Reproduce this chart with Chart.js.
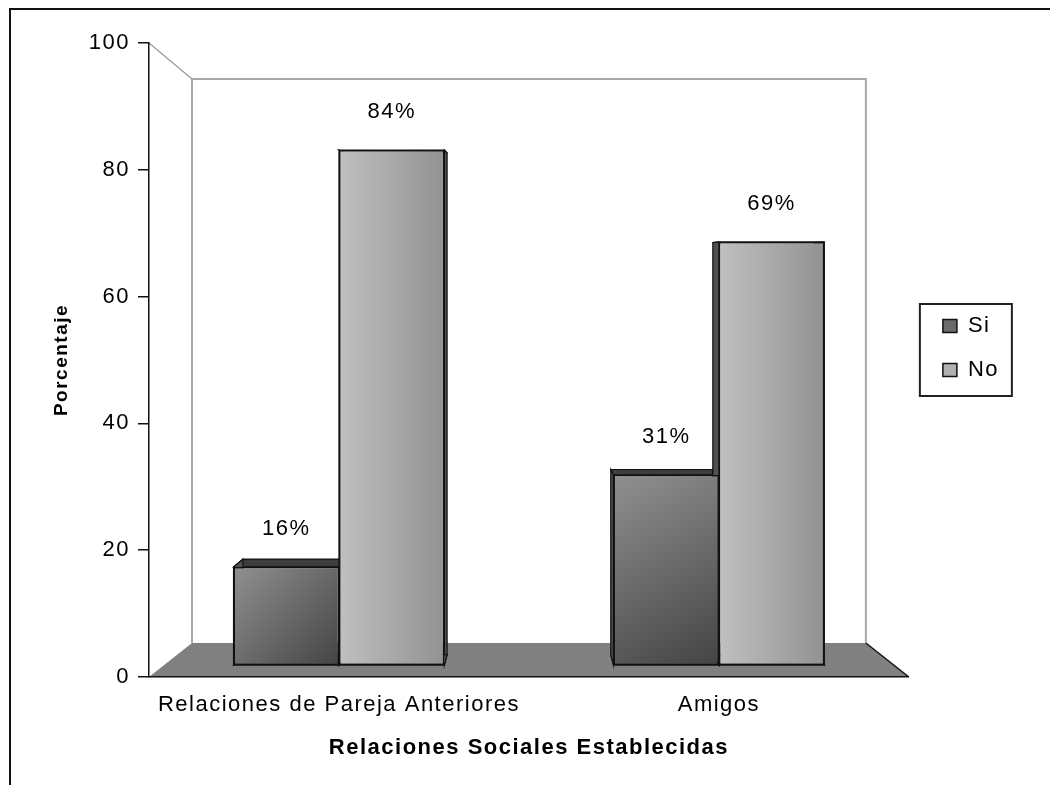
<!DOCTYPE html>
<html>
<head>
<meta charset="utf-8">
<script src="https://cdn.jsdelivr.net/npm/chart.js@4.4.1/dist/chart.umd.min.js"></script>
<style>
  html, body { margin: 0; padding: 0; background: #ffffff; }
  #wrap { width: 1050px; height: 785px; position: relative; }
  canvas { display: block; }
</style>
</head>
<body>
<div id="wrap"><canvas id="chart" width="1050" height="785"></canvas></div>
<script>
// ---- data ----
const categories = ['Relaciones de Pareja Anteriores', 'Amigos'];
const seriesNames = ['Si', 'No'];
const siValues = [16, 31];
const noValues = [84, 69];
const yTickValues = [0, 20, 40, 60, 80, 100];
const yAxisTitle = 'Porcentaje';
const xAxisTitle = 'Relaciones Sociales Establecidas';

// ---- style constants ----
const FONT = "'Liberation Sans', Arial, sans-serif";
const LETTER_SPACING = '1.5px';
const DEPTH_X = 43, DEPTH_Y = 34, WALL_DROP = 36;   // 3D wall/floor depth
const KX = 0.032, KY = 0.026, VP_VALUE = 65;         // bar extrusion perspective

Chart.defaults.font.family = FONT;
Chart.defaults.color = '#000';

const spacingPlugin = {
  id: 'spacing',
  beforeUpdate(chart) { chart.ctx.letterSpacing = LETTER_SPACING; },
  beforeDraw(chart) { chart.ctx.letterSpacing = LETTER_SPACING; }
};

const scenePlugin = {
  id: 'scene',
  beforeDraw(chart) {
    const { ctx, chartArea: ca, scales } = chart;
    const y = scales.y;
    const L = ca.left, R = ca.right;
    const y0 = y.getPixelForValue(0), y100 = y.getPixelForValue(100);
    const floorBack = y0 - DEPTH_Y, wallTop = y100 + WALL_DROP;
    const bL = L + DEPTH_X, bR = R - DEPTH_X;
    ctx.save();
    ctx.fillStyle = '#ffffff';
    ctx.fillRect(0, 0, chart.width, chart.height);
    // floor
    ctx.beginPath();
    ctx.moveTo(L, y0); ctx.lineTo(bL, floorBack); ctx.lineTo(bR, floorBack); ctx.lineTo(R, y0);
    ctx.closePath();
    ctx.fillStyle = '#808080';
    ctx.fill();
    ctx.strokeStyle = '#111'; ctx.lineWidth = 1.5;
    ctx.beginPath(); ctx.moveTo(bR, floorBack); ctx.lineTo(R, y0); ctx.stroke();
    // walls
    ctx.strokeStyle = '#a8a8a8'; ctx.lineWidth = 2;
    ctx.beginPath();
    ctx.moveTo(bL, floorBack); ctx.lineTo(bL, wallTop); ctx.lineTo(bR, wallTop); ctx.lineTo(bR, floorBack);
    ctx.stroke();
    ctx.strokeStyle = '#9a9a9a'; ctx.lineWidth = 1.2;
    ctx.beginPath(); ctx.moveTo(L, y100); ctx.lineTo(bL, wallTop); ctx.stroke();
    // outer frame
    ctx.strokeStyle = '#111'; ctx.lineWidth = 2;
    ctx.beginPath(); ctx.moveTo(10, chart.height); ctx.lineTo(10, 9); ctx.lineTo(chart.width, 9); ctx.stroke();
    ctx.restore();
  },
  beforeDatasetsDraw(chart) {
    const { ctx, chartArea: ca, scales } = chart;
    const vpx = (ca.left + ca.right) / 2;
    const vpy = scales.y.getPixelForValue(VP_VALUE);
    const back = p => ({ x: p.x + KX * (vpx - p.x), y: p.y + KY * (vpy - p.y) });
    chart.data.datasets.forEach((ds, di) => {
      const meta = chart.getDatasetMeta(di);
      meta.data.forEach(el => {
        const { x, y, base, width } = el.getProps(['x', 'y', 'base', 'width'], true);
        const l = x - width / 2, r = x + width / 2;
        const F = [{ x: l, y: y }, { x: r, y: y }, { x: r, y: base }, { x: l, y: base }];
        const B = F.map(back);
        ctx.save();
        ctx.lineWidth = 1.2;
        ctx.strokeStyle = '#111';
        for (let i = 0; i < 4; i++) {
          const j = (i + 1) % 4;
          ctx.beginPath();
          ctx.moveTo(F[i].x, F[i].y); ctx.lineTo(F[j].x, F[j].y);
          ctx.lineTo(B[j].x, B[j].y); ctx.lineTo(B[i].x, B[i].y);
          ctx.closePath();
          ctx.fillStyle = i === 0 ? '#3e3e3e' : '#505050';
          ctx.fill(); ctx.stroke();
        }
        ctx.restore();
        let g;
        if (di === 0) {
          g = ctx.createLinearGradient(l, y, r, base);
          g.addColorStop(0, '#909090'); g.addColorStop(1, '#444444');
        } else {
          g = ctx.createLinearGradient(l, 0, r, 0);
          g.addColorStop(0, '#c0c0c0'); g.addColorStop(1, '#929292');
        }
        el.options = Object.assign({}, el.options, { backgroundColor: g });
      });
    });
  },
  afterDatasetsDraw(chart) {
    const { ctx } = chart;
    ctx.save();
    ctx.font = '22px ' + FONT;
    ctx.fillStyle = '#000';
    ctx.textAlign = 'center';
    ctx.textBaseline = 'middle';
    chart.data.datasets.forEach((ds, di) => {
      chart.getDatasetMeta(di).data.forEach((el, i) => {
        ctx.fillText(ds.data[i] + '%', el.x, el.y - 38);
      });
    });
    ctx.restore();
  },
  afterDraw(chart) {
    const { ctx } = chart;
    const hb = chart.legend && chart.legend.legendHitBoxes;
    if (!hb || !hb.length) return;
    const last = hb[hb.length - 1];
    const left = hb[0].left - 23;
    const top = hb[0].top - 11;
    const bottom = last.top + last.height + 15;
    ctx.save();
    ctx.strokeStyle = '#222'; ctx.lineWidth = 2;
    ctx.strokeRect(left, top, 92, bottom - top);
    ctx.restore();
  }
};

new Chart(document.getElementById('chart'), {
  type: 'bar',
  data: {
    labels: categories,
    datasets: [
      { label: seriesNames[0], data: siValues, backgroundColor: '#6a6a6a', borderColor: '#111', borderWidth: 1.5,
        borderSkipped: false, yAxisID: 'yBar', categoryPercentage: 0.555, barPercentage: 1 },
      { label: seriesNames[1], data: noValues, backgroundColor: '#b0b0b0', borderColor: '#111', borderWidth: 1.5,
        borderSkipped: false, yAxisID: 'yBar', categoryPercentage: 0.555, barPercentage: 1 }
    ]
  },
  options: {
    responsive: false,
    devicePixelRatio: 1,
    animation: false,
    events: [],
    layout: { padding: { left: 40, top: 43, right: 41, bottom: 0 } },
    plugins: {
      tooltip: { enabled: false },
      legend: {
        position: 'right',
        align: 'start',
        fullSize: false,
        title: { display: true, text: ' ', color: 'rgba(0,0,0,0)', font: { size: 10 }, padding: { top: 119, bottom: 119 } },
        labels: { boxWidth: 14, boxHeight: 13, padding: 22, color: '#000', font: { size: 22 } }
      }
    },
    scales: {
      x: {
        position: 'bottom',
        offset: true,
        grid: { display: false, drawTicks: false },
        border: { display: true, color: '#111', width: 1.5 },
        ticks: { font: { size: 22 }, color: '#000', padding: 15, maxRotation: 0, autoSkip: false },
        title: { display: true, text: xAxisTitle, font: { size: 22, weight: 'bold' }, color: '#000', padding: { top: 4, bottom: 24 } },
        afterFit: s => { s.height = 108; }
      },
      y: {
        position: 'left',
        min: 0, max: 100,
        afterBuildTicks: s => { s.ticks = yTickValues.map(v => ({ value: v })); },
        grid: { drawOnChartArea: false, drawTicks: true, tickLength: 11, color: '#111', lineWidth: 1.5 },
        border: { display: true, color: '#111', width: 1.5 },
        ticks: { font: { size: 22 }, color: '#000', padding: 8 },
        title: { display: true, text: yAxisTitle, font: { size: 19, weight: 'bold' }, color: '#000', padding: { top: 10, bottom: 0 } },
        afterFit: s => { s.width = 109; }
      },
      yBar: {
        position: 'right',
        min: -1.95, max: 101.45,
        grid: { display: false, drawTicks: false },
        border: { display: false },
        ticks: { display: false },
        afterFit: s => { s.width = 12; }
      }
    }
  },
  plugins: [spacingPlugin, scenePlugin]
});
</script>
</body>
</html>
